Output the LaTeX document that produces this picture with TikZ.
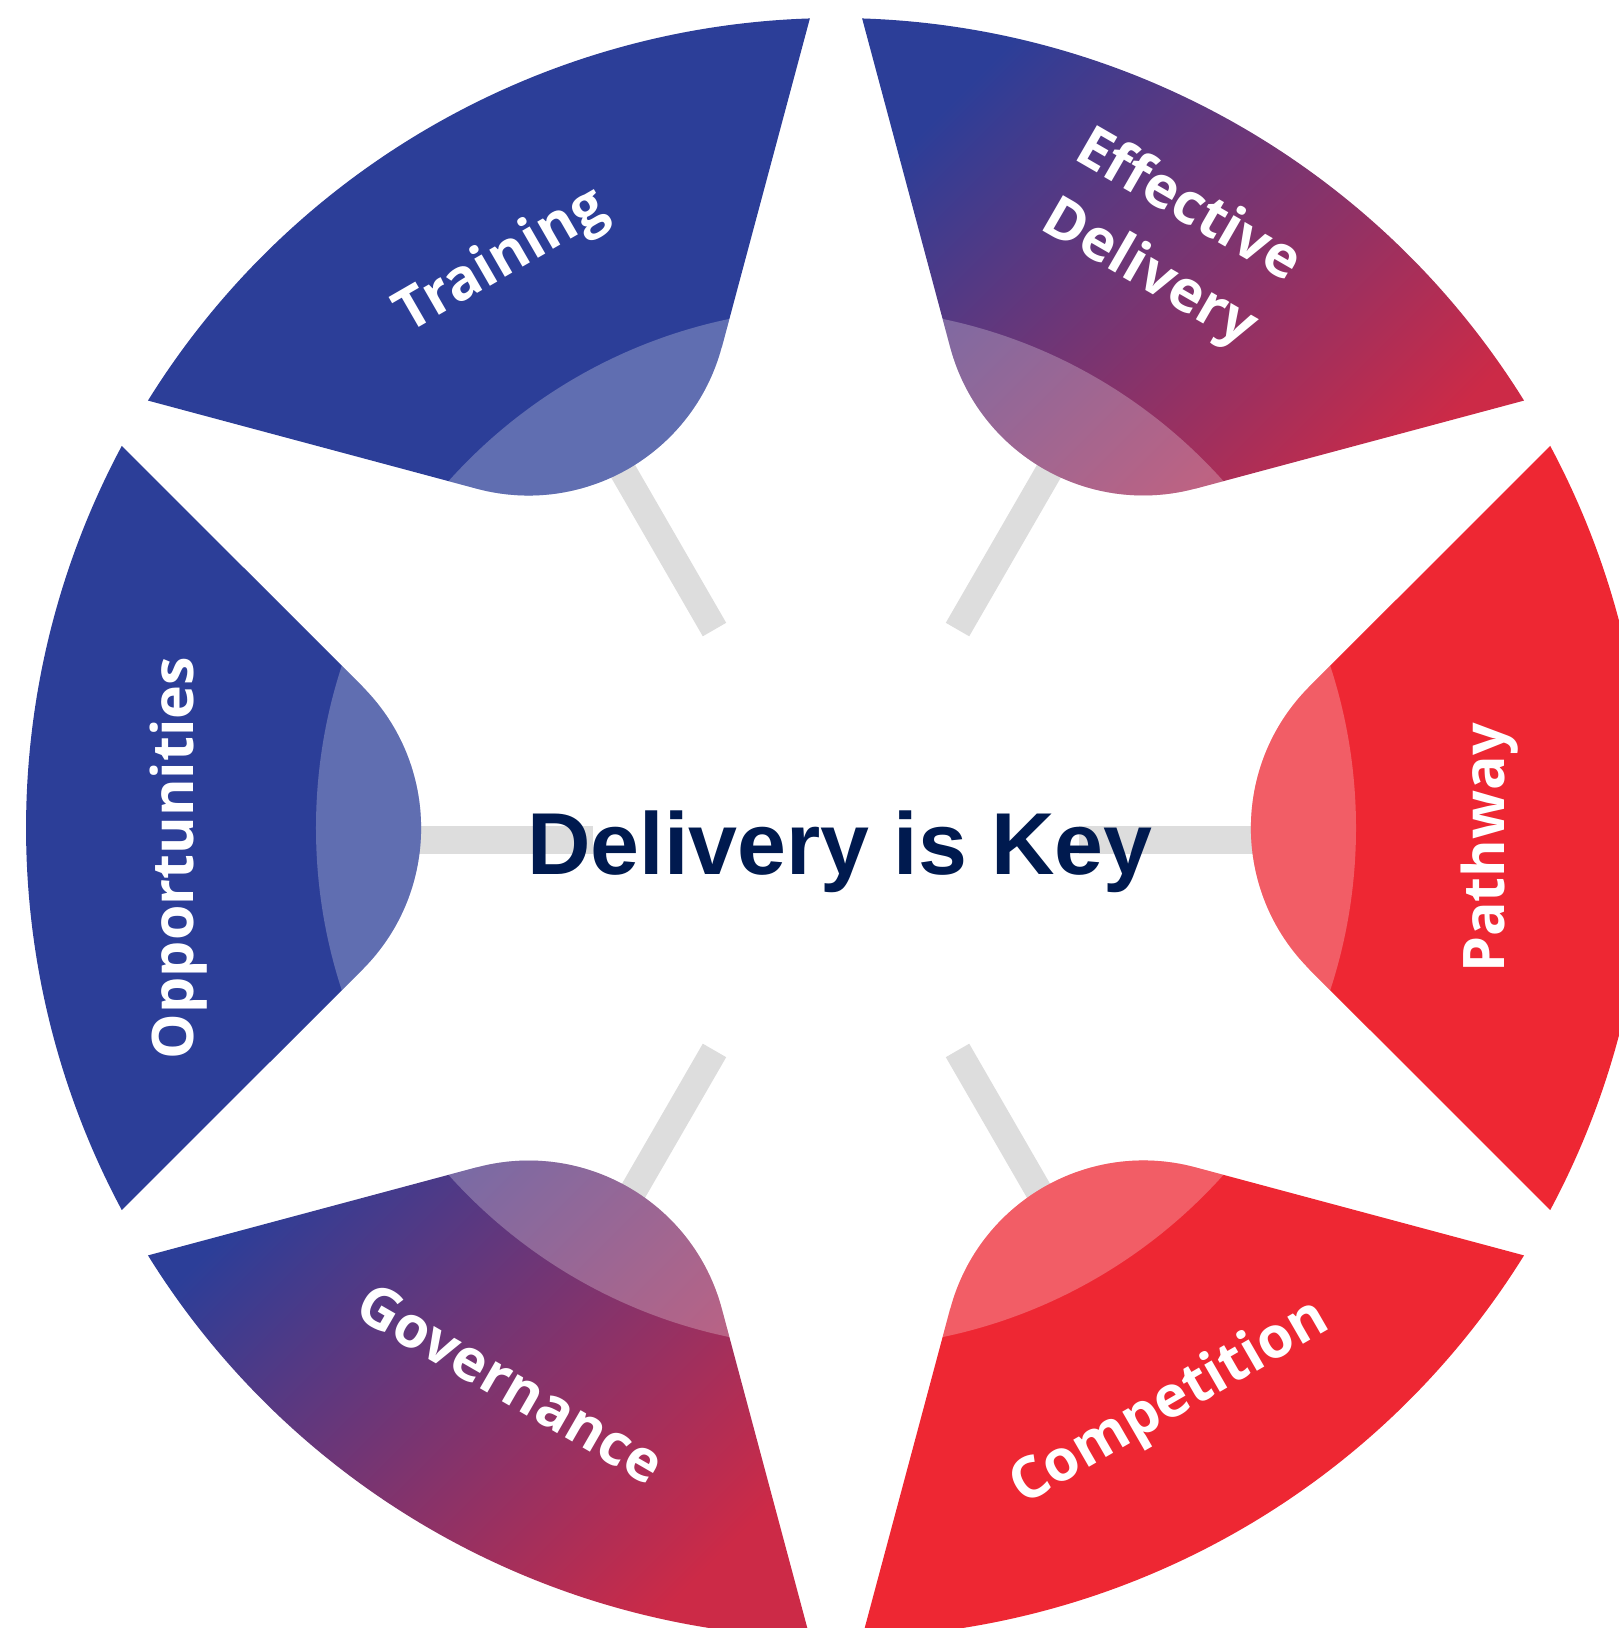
\documentclass[tikz,border=0pt]{standalone}
\usepackage{fontspec}
\setmainfont{Liberation Sans}
\newfontfamily\petalfont{Open Sans}
\usepackage{xcolor}
\usetikzlibrary{calc}

\definecolor{keyblue}{HTML}{2C3E98}
\definecolor{keyred}{HTML}{EE2733}
\definecolor{keywine}{HTML}{CC2A47}
\definecolor{keynavy}{HTML}{001A4F}
\definecolor{spokegray}{HTML}{DDDDDD}

% one rounded wedge, axis at angle #1
\newcommand{\petal}[1]{(#1-16.64:494.2) -- (#1-28.15:810) arc[start angle=#1-28.15, end angle=#1+28.15, radius=810] -- (#1+16.64:494.2) arc[start angle=#1+135, end angle=#1+225, radius=200] -- cycle}

\begin{document}
\begin{tikzpicture}[x=0.01cm, y=0.01cm,
		petalname/.style={text=white, font=\petalfont\bfseries\fontsize{16.3}{22}\selectfont, align=center},
		spoke/.style={draw=spokegray, line width=0.27cm},
		lighten/.style={fill=white, fill opacity=0.25},
		mixed/.style={top color=keyblue, bottom color=keywine, shading angle=45}]
				  \useasboundingbox (-836,-800) rectangle (783,828);
				  \coordinate (hub) at (0,-12);
				  \foreach \a in {0,60,...,300}{
				  	\coordinate (in\a) at ($(hub)+(\a:243)$);
				  	\coordinate (out\a) at ($(hub)+(\a:450)$);
				  	\draw[spoke] (in\a) -- (out\a);
				  }
				  \fill[keyblue] \petal{120};
				  \shade[mixed] \petal{60};
				  \fill[keyred] \petal{0};
				  \fill[keyred] \petal{-60};
				  \shade[mixed] \petal{-120};
				  \fill[keyblue] \petal{180};
				  % lighter caps
				  \foreach \a in {0,60,...,300}{
				  	\begin{scope}
				  		\clip \petal{\a};
				  		\fill[lighten] (0,0) circle[radius=520];
				  	\end{scope}
				  }
				  \node[petalname, rotate=30] (training) at (-334,566) {Training};
				  \node[petalname, rotate=-30] (effective) at (332,587) {Effective\\Delivery};
				  \node[petalname, rotate=90] (pathway) at (654,-20) {Pathway};
				  \node[petalname, rotate=30] (competition) at (334,-576) {Competition};
				  \node[petalname, rotate=-30] (governance) at (-325,-555) {Governance};
				  \node[petalname, rotate=90] (opportunities) at (-657,-30) {Opportunities};
				  \node[anchor=base, text=keynavy, font=\bfseries\fontsize{25}{30}\selectfont] (key) at (4,-47) {Delivery is Key};
				\end{tikzpicture}
\end{document}
